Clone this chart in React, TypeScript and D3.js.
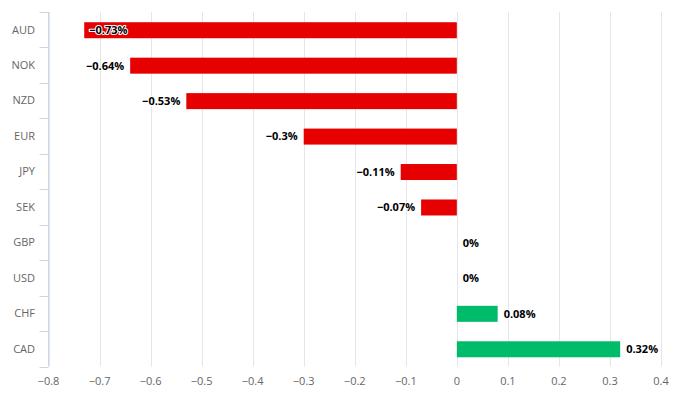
import React from 'react';
import * as d3 from 'd3';

// chart data
const currencies = ['AUD', 'NOK', 'NZD', 'EUR', 'JPY', 'SEK', 'GBP', 'USD', 'CHF', 'CAD'];
const changes = [-0.73, -0.64, -0.53, -0.3, -0.11, -0.07, 0, 0, 0.08, 0.32];
const xTicks = [-0.8, -0.7, -0.6, -0.5, -0.4, -0.3, -0.2, -0.1, 0, 0.1, 0.2, 0.3, 0.4];

// dimensions
const svgWidth = 673;
const svgHeight = 397;
const plotLeft = 48.5;
const plotRight = 661;
const plotTop = 12;
const plotBottom = 366.5;
const barHeight = 16;
const labelGap = 6;
const font = '"Open Sans", "DejaVu Sans", sans-serif';

const red = '#e60000';
const green = '#00bb6a';

const fmt = (v: number) => (v < 0 ? '\u2212' + Math.abs(v) : String(v));

const App = () => {
  const x = d3.scaleLinear().domain([-0.8, 0.4]).range([plotLeft, plotRight]);
  const y = d3.scaleBand<string>().domain(currencies).range([plotTop, plotBottom]);
  const bw = y.bandwidth();
  const boundaries = d3.range(currencies.length + 1).map((i) => plotTop + i * bw);

  return (
    <svg
      width={svgWidth}
      height={svgHeight}
      style={{ position: 'absolute', left: 0, top: 0, fontFamily: font }}
    >
      <rect width={svgWidth} height={svgHeight} fill="#fff" />

      {/* vertical grid */}
      {xTicks.map((t) => (
        <line
          key={'g' + t}
          x1={Math.round(x(t)) + 0.5}
          x2={Math.round(x(t)) + 0.5}
          y1={plotTop}
          y2={plotBottom}
          stroke="#e6e6e6"
        />
      ))}

      {/* category axis */}
      <line x1={plotLeft} x2={plotLeft} y1={plotTop} y2={plotBottom} stroke="#ccd6eb" />
      {boundaries.map((b, i) => (
        <line
          key={'t' + i}
          x1={plotLeft - 9}
          x2={plotLeft}
          y1={Math.round(b) + 0.5}
          y2={Math.round(b) + 0.5}
          stroke="#ccd6eb"
        />
      ))}
      {currencies.map((c) => (
        <text
          key={'c' + c}
          x={35}
          y={(y(c) as number) + bw / 2}
          dy="0.35em"
          textAnchor="end"
          fontSize={11}
          fill="#666"
        >
          {c}
        </text>
      ))}

      {/* value axis labels */}
      {xTicks.map((t) => (
        <text
          key={'l' + t}
          x={x(t)}
          y={385}
          textAnchor="middle"
          fontSize={11}
          fill="#666"
        >
          {fmt(t)}
        </text>
      ))}

      {/* bars */}
      {changes.map((v, i) => {
        const cy = (y(currencies[i]) as number) + bw / 2 + 0.5;
        const x0 = x(Math.min(0, v));
        const x1 = x(Math.max(0, v));
        return (
          <rect
            key={'b' + i}
            x={x0}
            y={cy - barHeight / 2}
            width={x1 - x0}
            height={barHeight}
            fill={v < 0 ? red : green}
          />
        );
      })}

      {/* data labels */}
      {changes.map((v, i) => {
        const cy = (y(currencies[i]) as number) + bw / 2 + 0.5;
        const label = fmt(v) + '%';
        // label does not fit left of the bar: put it inside
        const inside = v < 0 && x(v) - labelGap - 40 < plotLeft;
        let lx = x(v) + labelGap;
        let anchor = 'start';
        if (v < 0 && !inside) {
          lx = x(v) - labelGap;
          anchor = 'end';
        } else if (inside) {
          lx = x(v) + 5;
          anchor = 'start';
        }
        return (
          <text
            key={'d' + i}
            x={lx}
            y={cy}
            dy="0.35em"
            textAnchor={anchor}
            fontSize={11}
            fontWeight="bold"
            fill="#000"
            stroke="#fff"
            strokeWidth={2}
            strokeLinejoin="round"
            paintOrder="stroke"
          >
            {label}
          </text>
        );
      })}
    </svg>
  );
};

export default App;
